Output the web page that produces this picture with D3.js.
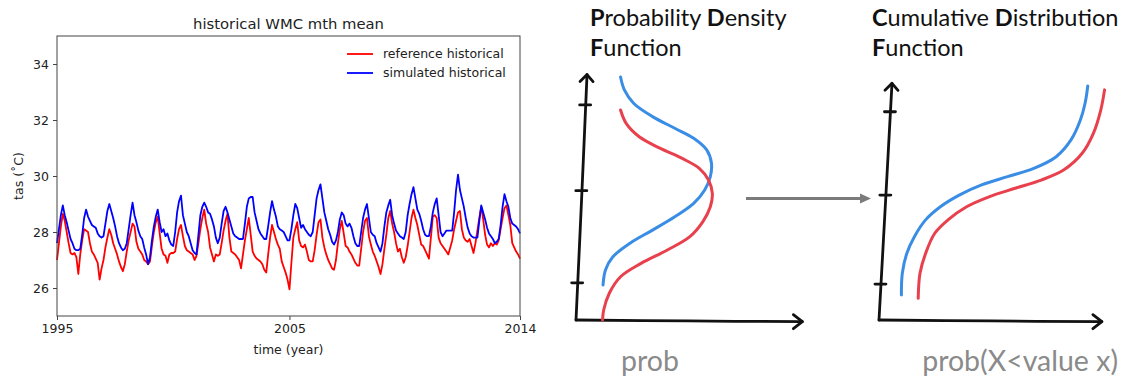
<!DOCTYPE html>
<html>
<head>
<meta charset="utf-8">
<script src="https://cdn.jsdelivr.net/npm/d3@7"></script>
<style>
  body { margin: 0; background: #fff; }
  svg { display: block; }
  .mpl text { font-family: "DejaVu Sans", sans-serif; fill: #222; }
  .sketch text { font-family: Lato, "Open Sans", sans-serif; }
</style>
</head>
<body>
<svg id="chart" width="1126" height="378"></svg>
<script>
// ---------- time series data (monthly, Jan 1995 - Dec 2014) ----------
const tickMonths = [0, 120, 239];
const tickYears = ["1995", "2005", "2014"];
const tempTicks = [26, 28, 30, 32, 34];
const seriesNames = ["reference historical", "simulated historical"];
const seriesColors = ["#ff0000", "#0000ff"];

// reference historical (red)
const refHist = [
  27.0, 27.6, 28.2, 28.65, 28.4, 28.0, 27.6, 27.25, 27.2, 27.25, 27.1, 26.5,    // 1995
  27.2, 27.7, 28.1, 28.05, 28.0, 27.6, 27.3, 27.2, 27.05, 26.9, 26.3, 26.7,     // 1996
  27.0, 27.45, 27.8, 28.1, 27.9, 27.6, 27.4, 27.2, 26.95, 26.75, 26.6, 26.85,   // 1997
  27.3, 27.7, 28.0, 28.3, 28.2, 27.65, 27.4, 27.3, 27.2, 27.0, 26.95, 26.85,    // 1998
  26.95, 27.5, 28.0, 28.35, 28.55, 27.95, 27.4, 27.2, 27.15, 26.9, 27.2, 27.25, // 1999
  27.25, 27.3, 27.75, 28.1, 28.25, 27.85, 27.5, 27.35, 27.3, 27.25, 27.2, 27.0, // 2000
  27.15, 27.6, 28.1, 28.5, 28.8, 28.3, 28.0, 27.45, 27.2, 26.95, 27.2, 27.15,   // 2001
  27.2, 27.6, 28.05, 28.4, 28.65, 27.8, 27.3, 27.25, 27.2, 27.1, 27.0, 26.7,    // 2002
  27.2, 27.7, 28.1, 28.5, 27.9, 27.3, 27.15, 27.05, 27.0, 26.95, 26.85, 26.65,  // 2003
  26.55, 27.2, 27.8, 28.25, 28.0, 27.75, 27.55, 27.4, 26.95, 26.75, 26.55, 26.3, // 2004
  25.95, 26.9, 27.8, 28.1, 28.35, 27.7, 27.5, 27.45, 27.55, 27.3, 27.0, 26.95,  // 2005
  26.95, 27.35, 27.9, 28.35, 28.45, 27.8, 27.45, 27.2, 27.0, 26.85, 26.7, 26.65, // 2006
  27.0, 27.6, 28.1, 28.4, 27.95, 27.5, 27.45, 27.3, 27.2, 27.05, 26.9, 26.8,    // 2007
  26.8, 27.4, 28.0, 28.4, 28.5, 27.85, 27.55, 27.3, 27.15, 26.95, 26.75, 26.5,  // 2008
  26.85, 27.4, 27.9, 28.5, 28.75, 28.3, 28.0, 27.6, 27.3, 27.4, 27.1, 26.9,     // 2009
  27.1, 27.5, 28.0, 28.5, 28.8, 28.5, 28.25, 27.9, 27.55, 27.5, 27.35, 27.2,    // 2010
  27.05, 27.8, 28.55, 28.6, 28.5, 27.8, 27.6, 27.5, 27.4, 27.3, 27.2, 27.45,    // 2011
  27.7, 28.1, 28.4, 28.7, 28.75, 28.1, 27.8, 27.7, 27.65, 27.75, 27.5, 27.25,   // 2012
  27.6, 28.05, 28.5, 28.9, 28.45, 27.9, 27.55, 27.45, 27.6, 27.5, 27.6, 27.55,  // 2013
  27.7, 28.1, 28.5, 28.85, 28.95, 28.6, 28.25, 27.6, 27.45, 27.3, 27.2, 27.05   // 2014
];

// simulated historical (blue)
const simHist = [
  27.6, 28.1, 28.6, 28.95, 28.6, 28.35, 28.05, 27.75, 27.6, 27.4, 27.35, 27.35,  // 1995
  27.4, 27.9, 28.5, 28.8, 28.55, 28.4, 28.25, 28.2, 28.15, 27.95, 27.85, 27.8,   // 1996
  27.85, 28.3, 28.75, 29.0, 28.75, 28.5, 28.2, 27.85, 27.6, 27.45, 27.35, 27.4,  // 1997
  27.6, 28.1, 28.6, 29.05, 28.6, 28.35, 28.05, 27.85, 27.75, 27.45, 27.2, 26.85, // 1998
  27.1, 27.7, 28.2, 28.55, 28.8, 28.35, 28.0, 28.1, 27.85, 27.95, 27.7, 27.55,   // 1999
  27.5, 28.0, 28.7, 29.1, 29.3, 28.6, 28.3, 28.0, 27.85, 27.6, 27.35, 27.25,     // 2000
  27.2, 27.9, 28.6, 28.9, 29.05, 28.9, 28.7, 28.65, 28.45, 28.2, 27.8, 27.6,     // 2001
  27.8, 28.3, 28.75, 28.9, 28.7, 28.45, 28.2, 27.95, 27.85, 27.8, 27.75, 27.75,  // 2002
  27.75, 28.3, 28.9, 29.2, 29.25, 29.25, 28.7, 28.4, 28.1, 27.95, 27.85, 27.75,  // 2003
  27.75, 28.2, 28.7, 29.1, 28.8, 28.55, 28.2, 28.1, 28.05, 28.0, 27.85, 27.7,    // 2004
  27.7, 28.1, 28.6, 29.0, 28.85, 28.5, 28.15, 28.25, 28.1, 28.0, 27.9, 27.85,    // 2005
  28.0, 28.6, 29.2, 29.5, 29.7, 29.2, 28.7, 28.4, 28.1, 27.9, 27.65, 27.55,      // 2006
  27.7, 28.0, 28.45, 28.7, 28.6, 28.3, 28.2, 28.3, 28.15, 27.85, 27.6, 27.5,     // 2007
  27.5, 28.0, 28.5, 28.8, 29.0, 28.5, 28.0, 27.9, 27.85, 27.6, 27.45, 27.3,      // 2008
  27.6, 28.2, 28.7, 28.95, 29.15, 28.6, 28.3, 28.05, 27.95, 27.85, 27.8, 27.75,  // 2009
  28.0, 28.6, 29.0, 29.35, 29.6, 29.2, 28.8, 28.65, 28.4, 28.1, 27.9, 27.85,     // 2010
  27.85, 28.2, 28.7, 29.0, 29.2, 28.6, 28.0, 27.85, 27.95, 28.05, 28.05, 28.05,  // 2011
  28.05, 28.7, 29.5, 30.05, 29.5, 29.2, 28.9, 28.5, 28.15, 27.95, 27.85, 27.8,   // 2012
  27.8, 27.8, 28.4, 28.95, 28.7, 28.45, 28.15, 27.95, 27.85, 27.75, 27.6, 27.65, // 2013
  27.75, 28.25, 28.9, 29.35, 29.1, 28.9, 28.5, 28.3, 28.25, 28.2, 28.1, 27.95    // 2014
];

// ---------- sketch data: [prob, value] on a 0-100 grid ----------
const pdfSim = [[19.8,100],[21.5,94.7],[25.6,89.2],[34.0,83.7],[43.9,78.9],[52.3,74.8],[58.1,70.0],
  [60.2,64.5],[59.7,59.0],[57.2,53.5],[52.3,48.0],[43.9,42.5],[34.0,37.0],[24.0,31.6],[16.4,26.0],[13.1,20.6],[12.0,14.4]];
const pdfRef = [[19.8,86.4],[22.3,80.9],[28.1,75.4],[37.3,70.7],[47.2,66.5],[54.8,62.4],[58.9,57.6],
  [60.6,52.1],[59.7,46.6],[56.4,40.5],[50.6,34.3],[40.6,28.8],[28.9,23.3],[19.8,17.8],[14.8,11.0],[12.3,4.1],[11.8,0]];
const cdfSim = [[10.0,10.3],[10.4,19.2],[12.4,27.4],[15.8,34.3],[20.8,41.2],[27.4,46.6],[35.8,51.4],
  [45.8,55.6],[57.4,59.0],[69.1,62.4],[79.1,67.2],[85.7,74.1],[89.9,82.3],[92.0,89.2],[93.2,96.3]];
const cdfRef = [[17.5,8.9],[18.3,19.2],[20.8,27.4],[24.9,35.7],[30.8,41.2],[39.1,46.6],[49.1,50.7],
  [60.8,54.2],[72.4,57.6],[82.4,61.7],[90.7,68.6],[95.7,76.8],[99.0,86.4],[100.7,94.7]];
// hand drawn axes
const pdfAxisY = [[0,0],[2.5,50],[4.9,101]];
const pdfAxisX = [[0,0],[50,-0.4],[100.6,-0.7]];
const cdfAxisY = [[0,0],[3,50],[5.8,97.4]];
const cdfAxisX = [[0,0],[50,-0.4],[99.5,-0.7]];
const pdfTicks = [88.5, 53.2, 15.3];
const cdfTicks = [85.7, 51.4, 14.8];
const sketchColors = { sim: "#3a8de4", ref: "#e8414d" };

const svg = d3.select("#chart");

// ================= matplotlib style time series =================
const plot = { left: 57, right: 520, top: 36, bottom: 316 };
const x = d3.scaleLinear().domain([0, 239]).range([plot.left, plot.right]);
const y = d3.scaleLinear().domain([25, 35]).range([plot.bottom, plot.top]);

const mpl = svg.append("g").attr("class", "mpl");

const line = d3.line()
    .x((d, i) => x(i))
    .y(d => y(d));

[refHist, simHist].forEach((series, k) => {
  mpl.append("path")
      .datum(series)
      .attr("fill", "none")
      .attr("stroke", seriesColors[k])
      .attr("stroke-width", 1.8)
      .attr("stroke-linejoin", "round")
      .attr("d", line);
});

// frame
mpl.append("rect")
    .attr("x", plot.left).attr("y", plot.top)
    .attr("width", plot.right - plot.left).attr("height", plot.bottom - plot.top)
    .attr("fill", "none").attr("stroke", "#444").attr("stroke-width", 1);

const xAxis = mpl.append("g")
    .attr("transform", `translate(0,${plot.bottom})`)
    .call(d3.axisBottom(x).tickValues(tickMonths).tickFormat((d, i) => tickYears[i]).tickSize(4).tickPadding(4));
const yAxis = mpl.append("g")
    .attr("transform", `translate(${plot.left},0)`)
    .call(d3.axisLeft(y).tickValues(tempTicks).tickSize(4).tickPadding(4));

[xAxis, yAxis].forEach(g => {
  g.select(".domain").remove();
  g.selectAll("line").attr("stroke", "#444");
  g.selectAll("text").attr("font-size", 12.5).attr("font-family", "DejaVu Sans").attr("fill", "#222");
});

mpl.append("text")
    .attr("x", (plot.left + plot.right) / 2).attr("y", 29)
    .attr("text-anchor", "middle").attr("font-size", 14.8)
    .text("historical WMC mth mean");

mpl.append("text")
    .attr("x", (plot.left + plot.right) / 2).attr("y", 354)
    .attr("text-anchor", "middle").attr("font-size", 12.5)
    .text("time (year)");

mpl.append("text")
    .attr("transform", `translate(23,${(plot.top + plot.bottom) / 2}) rotate(-90)`)
    .attr("text-anchor", "middle").attr("font-size", 12.5)
    .text("tas (˚C)");

// legend (no frame)
const legend = mpl.append("g");
seriesNames.forEach((name, k) => {
  const ly = 54 + k * 19;
  legend.append("line")
      .attr("x1", 347).attr("x2", 373).attr("y1", ly).attr("y2", ly)
      .attr("stroke", seriesColors[k]).attr("stroke-width", 1.8);
  legend.append("text")
      .attr("x", 383).attr("y", ly).attr("dy", "0.35em")
      .attr("font-size", 12.5)
      .text(name);
});

// ================= hand drawn PDF / CDF sketches =================
const sk = svg.append("g").attr("class", "sketch");
const sketchY = d3.scaleLinear().domain([0, 100]).range([320, 77]);
const pdfX = d3.scaleLinear().domain([0, 100]).range([576, 801]);
const cdfX = d3.scaleLinear().domain([0, 100]).range([879, 1103]);

function drawPanel(sx, axisY, axisX, ticks, sim, ref) {
  const ln = d3.line().x(d => sx(d[0])).y(d => sketchY(d[1])).curve(d3.curveCatmullRom.alpha(0.5));
  const g = sk.append("g");
  const axisStyle = p => p.attr("fill", "none").attr("stroke", "#111")
      .attr("stroke-width", 2.8).attr("stroke-linecap", "round").attr("stroke-linejoin", "round");

  g.append("path").datum(axisY).attr("d", ln).call(axisStyle);
  g.append("path").datum(axisX).attr("d", ln).call(axisStyle);

  // arrow heads
  const top = axisY[axisY.length - 1];
  const tx = sx(top[0]), ty = sketchY(top[1]);
  g.append("path").attr("d", `M${tx - 7},${ty + 7}L${tx},${ty}L${tx + 6},${ty + 7}`).call(axisStyle);
  const end = axisX[axisX.length - 1];
  const ex = sx(end[0]), ey = sketchY(end[1]);
  g.append("path").attr("d", `M${ex - 9},${ey - 7}L${ex},${ey}L${ex - 9},${ey + 7}`).call(axisStyle);

  // tick marks on the value axis
  g.selectAll(".tk").data(ticks).join("line")
      .attr("x1", d => sx(top[0] * d / top[1]) - 6)
      .attr("x2", d => sx(top[0] * d / top[1]) + 5)
      .attr("y1", d => sketchY(d)).attr("y2", d => sketchY(d))
      .call(axisStyle);

  [[sim, sketchColors.sim], [ref, sketchColors.ref]].forEach(([pts, c]) => {
    g.append("path").datum(pts).attr("d", ln)
        .attr("fill", "none").attr("stroke", c).attr("stroke-width", 3)
        .attr("stroke-linecap", "round");
  });
}

drawPanel(pdfX, pdfAxisY, pdfAxisX, pdfTicks, pdfSim, pdfRef);
drawPanel(cdfX, cdfAxisY, cdfAxisX, cdfTicks, cdfSim, cdfRef);

// grey arrow from PDF to CDF
sk.append("line")
    .attr("x1", 746).attr("x2", 862).attr("y1", 198.5).attr("y2", 198.5)
    .attr("stroke", "#7b7b7b").attr("stroke-width", 3);
sk.append("path")
    .attr("d", "M860,193.5L871,198.5L860,203.5Z")
    .attr("fill", "#7b7b7b");

// titles with bold initials
function titleLine(x0, y0, parts) {
  const t = sk.append("text").attr("x", x0).attr("y", y0)
      .attr("font-size", 23.5).attr("fill", "#111");
  parts.forEach(([s, bold]) => t.append("tspan").attr("font-weight", bold ? 700 : 400).text(s));
}
titleLine(590, 26, [["P", 1], ["robability ", 0], ["D", 1], ["ensity", 0]]);
titleLine(590, 56, [["F", 1], ["unction", 0]]);
titleLine(872, 26, [["C", 1], ["umulative ", 0], ["D", 1], ["istribution", 0]]);
titleLine(872, 56, [["F", 1], ["unction", 0]]);

sk.append("text").attr("x", 621).attr("y", 371)
    .attr("font-size", 28.5).attr("fill", "#8a8a8a").text("prob");
sk.append("text").attr("x", 1118).attr("y", 371).attr("text-anchor", "end")
    .attr("font-size", 28.5).attr("fill", "#8a8a8a").text("prob(X<value x)");
</script>
</body>
</html>
